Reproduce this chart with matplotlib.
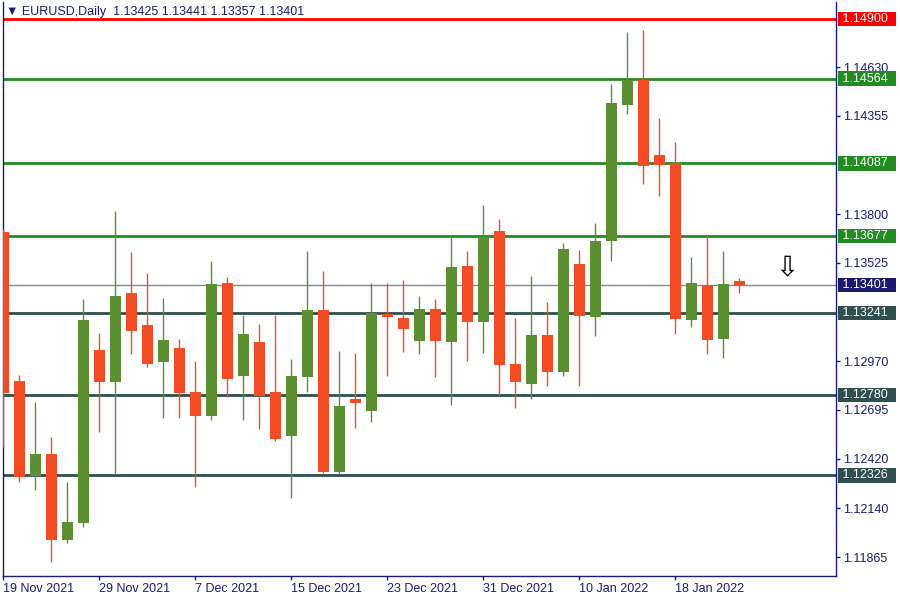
import matplotlib
matplotlib.use("Agg")
import matplotlib.pyplot as plt
import matplotlib.transforms as mtransforms

plt.rcParams['font.family'] = ['Liberation Sans', 'DejaVu Sans']

# daily EURUSD candles, 19 Nov 2021 .. 24 Jan 2022 (trading days)
opens = [1.13699, 1.12858, 1.12322, 1.12446, 1.11961, 1.12057, 1.13033, 1.12852, 1.13355, 1.13174,
         1.12965, 1.13044, 1.12796, 1.12661, 1.13411, 1.12886, 1.13078, 1.12796, 1.12548, 1.12881,
         1.13259, 1.12345, 1.12756, 1.12689, 1.13236, 1.13214, 1.13084, 1.13264, 1.13078, 1.13507,
         1.13191, 1.13705, 1.12954, 1.12841, 1.13118, 1.12909, 1.13518, 1.13219, 1.13648, 1.14416,
         1.14557, 1.14133, 1.14088, 1.13202, 1.13400, 1.13095, 1.13425]
highs = [1.13716, 1.12892, 1.12740, 1.12542, 1.12288, 1.13321, 1.13129, 1.13817, 1.13586, 1.13467,
         1.13326, 1.13095, 1.12971, 1.13535, 1.13445, 1.13230, 1.13180, 1.13230, 1.12982, 1.13592,
         1.13479, 1.13027, 1.13016, 1.13411, 1.13411, 1.13428, 1.13338, 1.13321, 1.13676, 1.13592,
         1.13851, 1.13772, 1.13214, 1.13450, 1.13304, 1.13637, 1.13597, 1.13750, 1.14534, 1.14827,
         1.14839, 1.14342, 1.14207, 1.13558, 1.13682, 1.13592, 1.13441]
lows = [1.12486, 1.12288, 1.12243, 1.11837, 1.11945, 1.12034, 1.12570, 1.12333, 1.13010, 1.12937,
        1.12649, 1.12649, 1.12260, 1.12638, 1.12768, 1.12638, 1.12587, 1.12519, 1.12198, 1.12796,
        1.12339, 1.12333, 1.12593, 1.12627, 1.12886, 1.13022, 1.13010, 1.12881, 1.12723, 1.12971,
        1.13016, 1.12779, 1.12706, 1.12756, 1.12830, 1.12886, 1.12830, 1.13112, 1.13535, 1.14365,
        1.13970, 1.13902, 1.13123, 1.13163, 1.13010, 1.12988, 1.13357]
closes = [1.12790, 1.12316, 1.12446, 1.11961, 1.12062, 1.13202, 1.12852, 1.13338, 1.13140, 1.12954,
          1.13089, 1.12790, 1.12661, 1.13405, 1.12869, 1.13123, 1.12773, 1.12531, 1.12886, 1.13259,
          1.12345, 1.12717, 1.12734, 1.13242, 1.13219, 1.13152, 1.13264, 1.13084, 1.13501, 1.13191,
          1.13671, 1.12948, 1.12852, 1.13118, 1.12909, 1.13603, 1.13225, 1.13648, 1.14427, 1.14557,
          1.14071, 1.14077, 1.13208, 1.13411, 1.13089, 1.13405, 1.13401]

date_labels = ["19 Nov 2021", "29 Nov 2021", "7 Dec 2021", "15 Dec 2021",
               "23 Dec 2021", "31 Dec 2021", "10 Jan 2022", "18 Jan 2022"]
date_pos = [0, 6, 12, 18, 24, 30, 36, 42]

price_ticks = [1.14630, 1.14355, 1.13800, 1.13525, 1.12970, 1.12695, 1.12420, 1.12140, 1.11865]

levels = [1.14900, 1.14564, 1.14087, 1.13677, 1.13241, 1.12780, 1.12326]
level_colors = ["#ff0000", "#228b22", "#228b22", "#228b22", "#2f4f4f", "#2f4f4f", "#2f4f4f"]
last_price = 1.13401

up_col = "#5b8f31"
down_col = "#f24b26"
navy = "#1b1b78"

fig = plt.figure(figsize=(9, 6), dpi=100)
ax = fig.add_axes([3 / 900, 24 / 600, 833 / 900, 574 / 600])

x = list(range(len(opens)))
cols = [up_col if c >= o else down_col for o, c in zip(opens, closes)]
bottoms = [min(o, c) for o, c in zip(opens, closes)]
heights = [max(abs(c - o), 0.00003) for o, c in zip(opens, closes)]

ax.vlines(x, lows, highs, colors=cols, linewidth=1, zorder=3)
ax.bar(x, heights, bottom=bottoms, width=0.69, color=cols, zorder=4)

# horizontal levels
for lv, col in zip(levels, level_colors):
    ax.axhline(lv, color=col, linewidth=2, zorder=2)
ax.axhline(last_price, color="#7f8a96", linewidth=1, zorder=2)

trans = mtransforms.blended_transform_factory(ax.transAxes, ax.transData)
for lv, col in zip(levels + [last_price], level_colors + ["#1a1a6e"]):
    ax.text(1.0 + 3 / 833, lv, f" {lv:.5f}  ", transform=trans, ha="left", va="center",
            color="white", fontsize=9, zorder=6, clip_on=False,
            bbox=dict(boxstyle="square,pad=0.1", fc=col, ec="none"))

ax.text(49, 1.13496, "\u21e9", fontsize=20, color="black", ha="center", va="center",
        family=["DejaVu Sans"], zorder=5)

ax.set_xlim(-0.02, 52.06)
ax.set_ylim(1.11758, 1.14997)

ax.yaxis.tick_right()
ax.set_yticks(price_ticks, [f"{p:.5f}" for p in price_ticks])
ax.set_xticks(date_pos, date_labels, ha="left")
ax.tick_params(axis="both", colors=navy, labelcolor=navy, labelsize=9, length=3, width=1)
ax.tick_params(axis="y", pad=2)
ax.tick_params(axis="x", pad=2)
for lab in ax.get_xticklabels():
    lab.set_horizontalalignment("left")

for side in ["left", "right", "bottom"]:
    ax.spines[side].set_color(navy)
    ax.spines[side].set_linewidth(1)
ax.spines["top"].set_visible(False)

fig.text(6 / 900, 1 - 12 / 600, "\u25bc EURUSD,Daily  1.13425 1.13441 1.13357 1.13401",
         fontsize=9, color=navy, ha="left", va="center")

fig.savefig("out.png", dpi=100)
